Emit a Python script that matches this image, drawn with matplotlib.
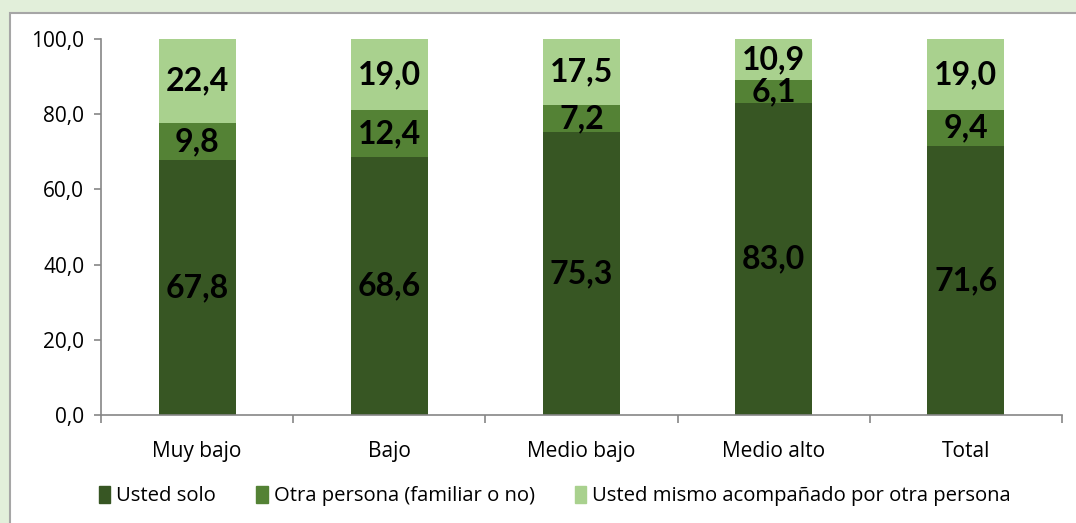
import matplotlib.pyplot as plt
import numpy as np
from matplotlib.patches import Rectangle

categories = ["Muy bajo", "Bajo", "Medio bajo", "Medio alto", "Total"]
usted_solo = [67.8, 68.6, 75.3, 83.0, 71.6]
otra_persona = [9.8, 12.4, 7.2, 6.1, 9.4]
acompanado = [22.4, 19.0, 17.5, 10.9, 19.0]
series_names = ["Usted solo", "Otra persona (familiar o no)",
                "Usted mismo acompañado por otra persona"]
yticks = [0, 20, 40, 60, 80, 100]

colors = ["#375623", "#548235", "#A9D18E"]
plt.rcParams["font.family"] = ["Open Sans", "DejaVu Sans"]

W, H = 1076, 523
fig = plt.figure(figsize=(W / 100, H / 100), dpi=100)
fig.patch.set_facecolor("#E2EFDA")

# white chart panel with grey frame
panel = Rectangle((10 / W, -0.1), 1.2, (H - 13) / H + 0.1, transform=fig.transFigure,
                  facecolor="white", edgecolor="#A6A6A6", linewidth=1.5, zorder=-5)
fig.patches.append(panel)

ax = fig.add_axes([101 / W, (H - 415) / H, (1062 - 101) / W, (415 - 39) / H])
ax.set_facecolor("none")
ax.set_zorder(2)

x = np.arange(len(categories))
width = 0.4
bottom = np.zeros(len(categories))
for vals, col in zip([usted_solo, otra_persona, acompanado], colors):
    ax.bar(x, vals, width, bottom=bottom, color=col, edgecolor="none", zorder=2)
    for xi, b, v in zip(x, bottom, vals):
        ax.text(xi, b + v / 2, f"{v:.1f}".replace(".", ","), ha="center", va="center",
                fontsize=23, fontweight="bold", color="black", zorder=3,
                family=["Lato", "DejaVu Sans"])
    bottom += np.array(vals)

ax.set_xlim(-0.5, len(categories) - 0.5)
ax.set_ylim(0, 100)
ax.set_yticks(yticks)
ax.set_yticklabels([f"{t:.1f}".replace(".", ",") for t in yticks], fontsize=15)
ax.set_xticks(x)
ax.set_xticklabels(categories, fontsize=15)
ax.set_xticks(np.arange(-0.5, len(categories)), minor=True)
ax.tick_params(axis="x", which="major", length=0, pad=19)
ax.tick_params(axis="x", which="minor", length=6, color="#868686", width=1.2)
ax.tick_params(axis="y", length=5, color="#868686", width=1.2, pad=7)
for s in ["top", "right"]:
    ax.spines[s].set_visible(False)
for s in ["left", "bottom"]:
    ax.spines[s].set_color("#868686")
    ax.spines[s].set_linewidth(1.2)

handles = [Rectangle((0, 0), 1, 1, color=c) for c in colors]
leg = fig.legend(handles, series_names, loc="center", bbox_to_anchor=(555 / W, (H - 496) / H),
                 ncol=3, frameon=False, fontsize=14.6, handlelength=0.55, handleheight=0.9,
                 handletextpad=0.3, columnspacing=2.0)
leg.set_zorder(3)

fig.savefig("out.png", dpi=100, facecolor=fig.get_facecolor())
